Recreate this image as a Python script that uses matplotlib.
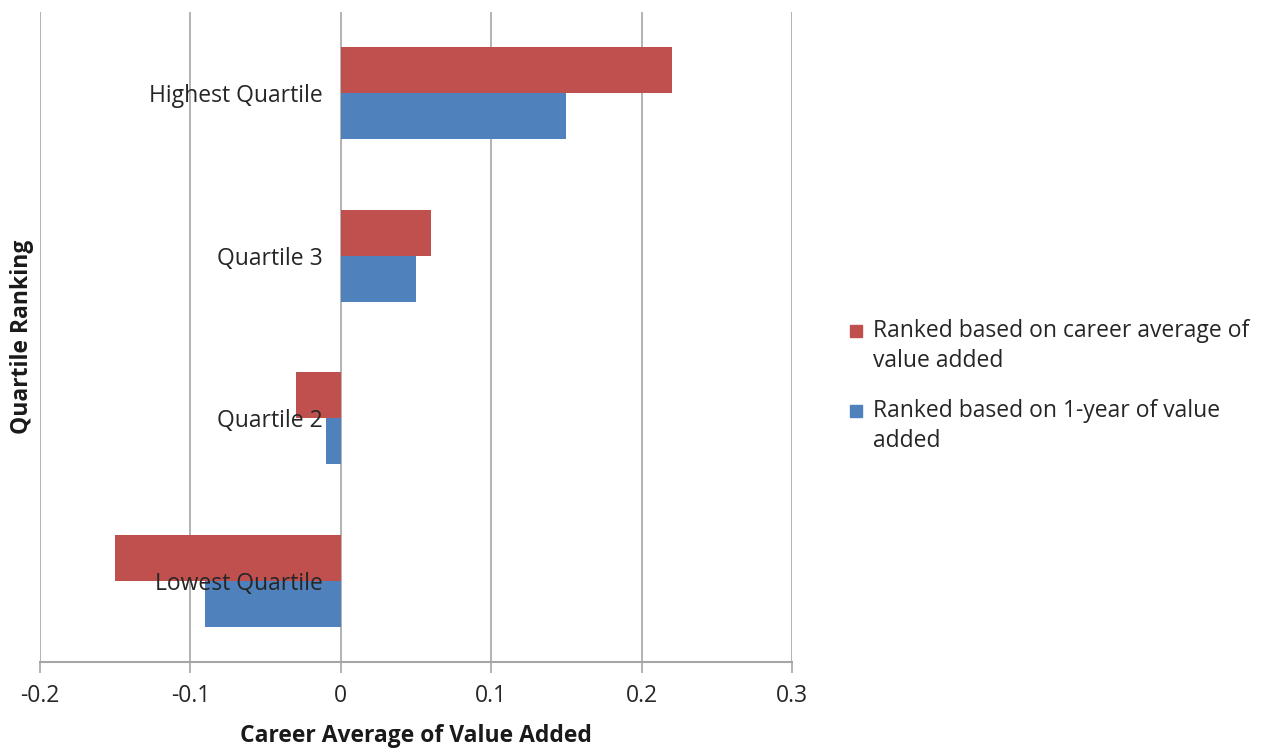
import matplotlib.pyplot as plt
from matplotlib.patches import Rectangle
import numpy as np

plt.rcParams['font.family'] = ['Open Sans', 'DejaVu Sans']

categories = ['Lowest Quartile', 'Quartile 2', 'Quartile 3', 'Highest Quartile']
career_avg = [-0.15, -0.03, 0.06, 0.22]
one_year = [-0.09, -0.01, 0.05, 0.15]
series_names = ['Ranked based on career average of\nvalue added',
                'Ranked based on 1-year of value\nadded']
xticks = [-0.2, -0.1, 0, 0.1, 0.2, 0.3]

red = '#C0504D'
blue = '#4F81BD'
grid = '#A6A6A6'
txt = '#262626'
fs = 16.5

W, H = 1268, 751
fig = plt.figure(figsize=(W / 100, H / 100), dpi=100)
ax = fig.add_axes([0.0315, 0.1185, 0.5931, 0.8655])

y = np.arange(len(categories))
h = 0.283
ax.barh(y + h / 2, career_avg, height=h, color=red, zorder=2)
ax.barh(y - h / 2, one_year, height=h, color=blue, zorder=2)

ax.set_xlim(-0.2, 0.3)
ax.set_ylim(-0.5, 3.5)
ax.set_xticks(xticks)
ax.set_xticklabels(['-0.2', '-0.1', '0', '0.1', '0.2', '0.3'], fontsize=fs, color=txt)
ax.set_yticks([])
ax.tick_params(axis='x', length=8, width=1.2, color=grid, pad=8)

for s in ['top', 'right', 'left']:
    ax.spines[s].set_visible(False)
ax.spines['bottom'].set_color(grid)
ax.spines['bottom'].set_linewidth(1.5)

for xv in xticks:
    ax.axvline(xv, color=grid, linewidth=1.2, zorder=1)

# category names sit next to the zero line, on top of the bars
for yi, name in zip(y, categories):
    ax.annotate(name, xy=(0, yi), xytext=(-18, -3), textcoords='offset pixels',
                ha='right', va='center', fontsize=fs, color=txt, zorder=3)

ax.set_xlabel('Career Average of Value Added', fontsize=fs, fontweight='bold',
              color='#1a1a1a', labelpad=11)
fig.text(0.017, 0.551, 'Quartile Ranking', rotation=90, ha='center', va='center',
         fontsize=fs, fontweight='bold', color='#1a1a1a')

# legend: square marker level with the first line of each wrapped label
for k, (name, col) in enumerate(zip(series_names, [red, blue])):
    y0 = 331 + 80 * k
    fig.patches.append(Rectangle((850 / W, 1 - (y0 + 6) / H), 12 / W, 12 / H,
                                 transform=fig.transFigure, color=col))
    for j, line in enumerate(name.split('\n')):
        fig.text(873 / W, 1 - (y0 + 30 * j) / H, line, ha='left', va='center',
                 fontsize=fs, color=txt)

fig.savefig('out.png', dpi=100)
